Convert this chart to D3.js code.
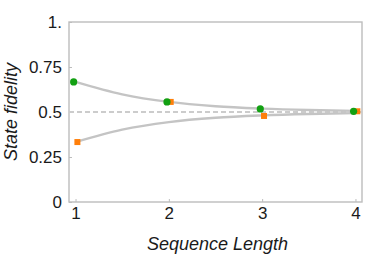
<!DOCTYPE html>
<html>
<head>
<meta charset="utf-8">
<script src="https://cdn.jsdelivr.net/npm/d3@7"></script>
<style>
  body { margin: 0; background: #fff; }
  text { font-family: "Liberation Sans", Arial, sans-serif; fill: #1a1a1a; }
</style>
</head>
<body>
<div class="chart"></div>
<script>
var lengths = [1, 2, 3, 4];
var greenVals = [0.667, 0.556, 0.517, 0.504];
var orangeVals = [0.333, 0.556, 0.478, 0.504];

// theory curves
var curveX = [1, 1.5, 2, 2.5, 3, 3.5, 4];
var upperCurve = [0.667, 0.598, 0.556, 0.532, 0.519, 0.511, 0.506];
var lowerCurve = [0.333, 0.402, 0.444, 0.468, 0.481, 0.489, 0.494];

var yTicks = [0, 0.25, 0.5, 0.75, 1];
var yTickLabels = ["0", "0.25", "0.5", "0.75", "1."];
var xTicks = [1, 2, 3, 4];

var margin = { top: 22, right: 12, bottom: 56, left: 69 };
var fullWidth = 374, fullHeight = 258;
var width = fullWidth - margin.left - margin.right;
var height = fullHeight - margin.top - margin.bottom;

var svg = d3
  .select(".chart")
  .append("svg")
  .attr("width", fullWidth)
  .attr("height", fullHeight)
  .append("g")
  .attr("transform", `translate(${margin.left}, ${margin.top})`);

var xScale = d3.scaleLinear().domain([0.93, 4.07]).range([0, width]);
var yScale = d3.scaleLinear().domain([0, 1]).range([height, 0]);

// frame
svg.append("rect")
  .attr("x", 0).attr("y", 0)
  .attr("width", width).attr("height", height)
  .attr("fill", "none")
  .attr("stroke", "#bdbdbd")
  .attr("stroke-width", 1.4);

// y axis ticks (inside)
var yAxis = d3.axisLeft(yScale)
  .tickValues(yTicks)
  .tickFormat((d, i) => yTickLabels[i])
  .tickSizeInner(-3)
  .tickSizeOuter(0)
  .tickPadding(7);
var gy = svg.append("g").call(yAxis);
gy.select(".domain").remove();
gy.selectAll("line").attr("stroke", "#bdbdbd");
gy.selectAll("text").style("font-size", "17px").attr("fill", "#1a1a1a");

var xAxis = d3.axisBottom(xScale)
  .tickValues(xTicks)
  .tickFormat(d3.format("d"))
  .tickSizeInner(-3)
  .tickSizeOuter(0)
  .tickPadding(5);
var gx = svg.append("g").attr("transform", `translate(0, ${height})`).call(xAxis);
gx.select(".domain").remove();
gx.selectAll("line").attr("stroke", "#bdbdbd");
gx.selectAll("text").style("font-size", "17px").attr("fill", "#1a1a1a");

// dashed 0.5 line
svg.append("line")
  .attr("x1", 0).attr("x2", width)
  .attr("y1", yScale(0.5)).attr("y2", yScale(0.5))
  .attr("stroke", "#cccccc")
  .attr("stroke-width", 2.2)
  .attr("stroke-dasharray", "5,3");

var line = d3.line()
  .x(d => xScale(d[0]))
  .y(d => yScale(d[1]))
  .curve(d3.curveMonotoneX);

[upperCurve, lowerCurve].forEach(function (c) {
  svg.append("path")
    .datum(curveX.map((x, i) => [x, c[i]]))
    .attr("d", line)
    .attr("fill", "none")
    .attr("stroke", "#c4c4c4")
    .attr("stroke-width", 2.4);
});

// data points
svg.selectAll(".sq")
  .data(lengths)
  .enter()
  .append("rect")
  .attr("x", (d, i) => xScale(d + 0.02) - 3)
  .attr("y", (d, i) => yScale(orangeVals[i]) - 3)
  .attr("width", 6)
  .attr("height", 6)
  .attr("fill", "#ff7f0a");

svg.selectAll(".dot")
  .data(lengths)
  .enter()
  .append("circle")
  .attr("cx", (d, i) => xScale(d - 0.02))
  .attr("cy", (d, i) => yScale(greenVals[i]))
  .attr("r", 3.6)
  .attr("fill", "#12a012");

// axis titles
svg.append("text")
  .attr("x", width / 2 + 2)
  .attr("y", height + 48)
  .attr("text-anchor", "middle")
  .style("font-size", "18px")
  .style("font-style", "italic")
  .text("Sequence Length");

svg.append("text")
  .attr("transform", `translate(${17 - margin.left}, ${yScale(0.5)}) rotate(-90)`)
  .attr("text-anchor", "middle")
  .style("font-size", "18px")
  .style("font-style", "italic")
  .text("State fidelity");
</script>
</body>
</html>
